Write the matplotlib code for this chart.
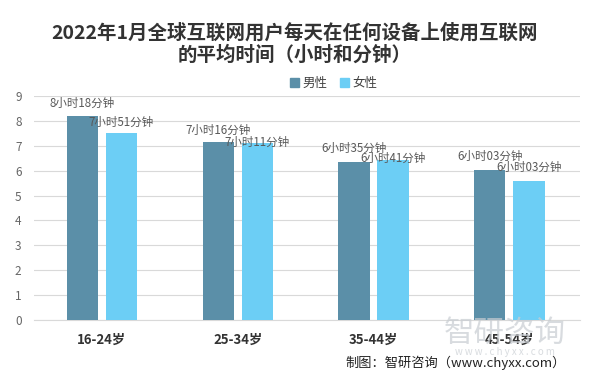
import numpy as np
import matplotlib.pyplot as plt
from matplotlib.patches import Patch

plt.rcParams['font.family'] = ['Noto Sans CJK SC', 'DejaVu Sans']

# Data
age_groups = ['16-24岁', '25-34岁', '35-44岁', '45-54岁']
series = ['男性', '女性']
male_values = [8.18, 7.16, 6.35, 6.03]
female_values = [7.51, 7.11, 6.41, 5.58]
male_labels = ['8小时18分钟', '7小时16分钟', '6小时35分钟', '6小时03分钟']
female_labels = ['7小时51分钟', '7小时11分钟', '6小时41分钟', '6小时03分钟']

male_color = '#5b8fa8'
female_color = '#6ccef5'

fig = plt.figure(figsize=(5.89, 3.78), dpi=100)
ax = fig.add_axes([34 / 589, 1 - 320 / 378, 546 / 589, 224 / 378])

x = np.arange(len(age_groups))
bar_width = 0.23
offset = 0.144

bars_m = ax.bar(x - offset, male_values, bar_width, color=male_color, zorder=3)
bars_f = ax.bar(x + offset, female_values, bar_width, color=female_color, zorder=3)

# label lift above bar top (female labels nudged down where they would collide, as in the source)
male_lift = [0.38, 0.3, 0.42, 0.4]
female_lift = [0.3, -0.12, -0.04, 0.42]

for bars, labels, lifts in [(bars_m, male_labels, male_lift), (bars_f, female_labels, female_lift)]:
    for bar, lab, lift in zip(bars, labels, lifts):
        ax.text(bar.get_x() + bar.get_width() / 2, bar.get_height() + lift, lab,
                ha='center', va='baseline', fontsize=8.3, color='#595959', zorder=4)

ax.set_xlim(-0.5, 3.52)
ax.set_ylim(0, 9)
ax.set_yticks(np.arange(0, 10, 1))
ax.set_xticks(x)
ax.set_xticklabels(age_groups, fontsize=9.5, fontweight='bold', color='#333333')
ax.tick_params(axis='x', length=0, pad=9)
ax.tick_params(axis='y', length=0, labelsize=8.5, labelcolor='#666666', pad=9)
ax.grid(axis='y', color='#d9d9d9', linewidth=0.8, zorder=0)
for side in ['top', 'right', 'left']:
    ax.spines[side].set_visible(False)
ax.spines['bottom'].set_color('#d9d9d9')

# Title
fig.text(0.5, 1 - 33 / 378, '2022年1月全球互联网用户每天在任何设备上使用互联网',
         ha='center', va='center', fontsize=14, fontweight='bold', color='#333333')
fig.text(0.5, 1 - 55 / 378, '的平均时间（小时和分钟）',
         ha='center', va='center', fontsize=14, fontweight='bold', color='#333333')

# Legend
handles = [Patch(color=male_color, label=series[0]), Patch(color=female_color, label=series[1])]
fig.legend(handles=handles, loc='center', bbox_to_anchor=(334 / 589, 1 - 83 / 378), ncol=2,
           frameon=False, fontsize=9, handlelength=0.7, handleheight=0.7,
           handletextpad=0.3, columnspacing=1.0, labelcolor='#404040')

# Watermark and source
fig.text(505 / 589, 1 - 333 / 378, '智研咨询', ha='center', va='center',
         fontsize=22, color='#c8cdd2', alpha=0.7)
fig.text(505 / 589, 1 - 352 / 378, 'w w w . c h y x x . c o m', ha='center', va='center',
         fontsize=7, color='#c8cdd2', alpha=0.7)
fig.text(566 / 589, 1 - 363 / 378, '制图：智研咨询（www.chyxx.com）', ha='right', va='center',
         fontsize=9.5, color='#222222')

plt.savefig('out.png', dpi=100)
